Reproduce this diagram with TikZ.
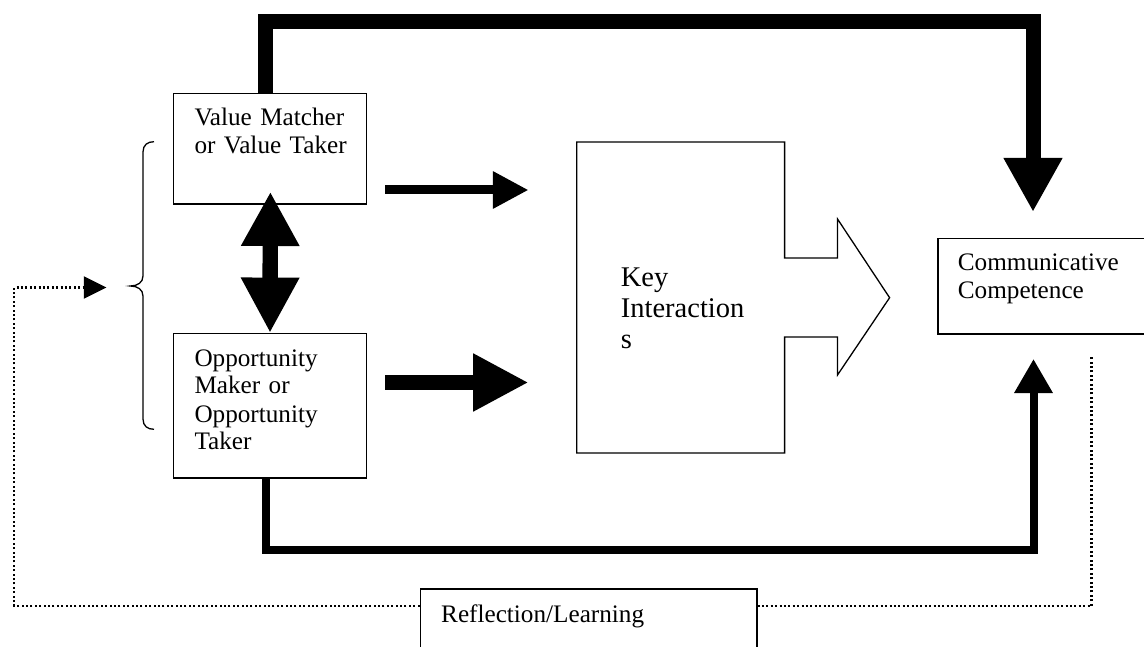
\documentclass[tikz,border=0pt]{standalone}
\usepackage{fontspec}
\setmainfont{Liberation Serif}
\usetikzlibrary{arrows.meta}
\begin{document}
\begin{tikzpicture}[x=1pt,y=-1pt,
  box/.style={draw, line width=1.5pt, inner sep=0pt, fill=white},
  txt/.style={anchor=base west, inner sep=0pt, text width=#1, align=left,
    font=\fontsize{25.2}{28}\selectfont},
  keytxt/.style={anchor=base west, inner sep=0pt, text width=#1, align=left,
    font=\fontsize{28.5}{31}\selectfont},
  heavy/.style={line width=#1, line join=miter, line cap=butt},
  dotline/.style={line width=2.2pt, dash pattern=on 2pt off 2.4pt},
  brace/.style={line width=1.3pt}
]
\path[fill=white, use as bounding box] (0,0) rectangle (1144,647);

% boxes
\node[box, minimum width=192.8pt, minimum height=110.3pt] (A) at (270,148.85) {};
\node[box, minimum width=192.8pt, minimum height=144.3pt] (B) at (270,405.85) {};
\node[box, minimum width=220pt, minimum height=95.6pt, anchor=north west] (C) at (937,237.7) {};
\node[box, minimum width=336.5pt, minimum height=80pt, anchor=north west] (R) at (419.5,588) {};

% key interactions block arrow
\draw[line width=1.3pt, line join=miter]
  (576.8,142) -- (784.6,142) -- (784.6,258) -- (837.5,258) -- (837.5,219)
  -- (889.6,297.7) -- (837.5,375) -- (837.5,337) -- (784.6,337) -- (784.6,453)
  -- (576.8,453) -- cycle;

% free-end coordinates
\coordinate (ctop) at (1033,212);
\coordinate (cbot) at (1033.5,359);
\coordinate (dtop) at (270.4,191.7);
\coordinate (a1s) at (385,190);
\coordinate (a1e) at (528.6,190);
\coordinate (a2s) at (385,382.5);
\coordinate (a2e) at (528.6,382.5);
\coordinate (cdl) at (106.4,287.5);
\coordinate (cdr) at (1091.5,357);

% top loop
\draw[heavy=15pt, -{Triangle[length=54pt,width=55pt]}]
  ([xshift=-5pt]A.north) |- (1033,22) -- (ctop);
% bottom loop
\draw[heavy=8pt, -{Triangle[length=34pt,width=36.5pt]}]
  ([xshift=-4.5pt]B.south) |- (1033.5,549.5) -- (cbot);
% arrows to key interactions
\draw[heavy=9pt, -{Triangle[length=35.7pt,width=35pt]}] (a1s) -- (a1e);
\draw[heavy=15pt, -{Triangle[length=55.4pt,width=54pt]}] (a2s) -- (a2e);
% double arrow
\draw[heavy=15.4pt, {Triangle[length=54.3pt,width=54.6pt]}-{Triangle[length=55.4pt,width=54.6pt]}]
  (dtop) -- (B.north);

% dotted feedback lines
\draw[dotline, -{Triangle[length=22.5pt,width=22pt,sep=0pt]}]
  ([yshift=-18pt]R.north west) -| (14.3,287.5) -- (cdl);
\draw[dotline] ([yshift=-18pt]R.north east) -| (cdr);

% brace
\draw[brace] (154,141.7) .. controls (147.5,141.7) and (143,145) .. (143,152)
  -- (143,276) .. controls (143,282.5) and (137.5,286) .. (130.4,286)
  .. controls (137.5,286) and (143,289.5) .. (143,296)
  -- (143,419) .. controls (143,426) and (147.5,429.3) .. (154,429.3);

% texts
\node[txt=170pt] (tA) at (194.3,125.7) {Value Matcher\\or Value Taker};
\node[txt=170pt] (tB) at (194.3,366) {Opportunity\\Maker or\\Opportunity\\Taker};
\node[txt=180pt] (tC) at (957.7,270.7) {Communicative\\Competence};
\node[keytxt=150pt] (tK) at (620.7,286.7) {Key\\Interaction\\s};
\node[txt=300pt] (tR) at (441,622.3) {Reflection/Learning};
\end{tikzpicture}
\end{document}
